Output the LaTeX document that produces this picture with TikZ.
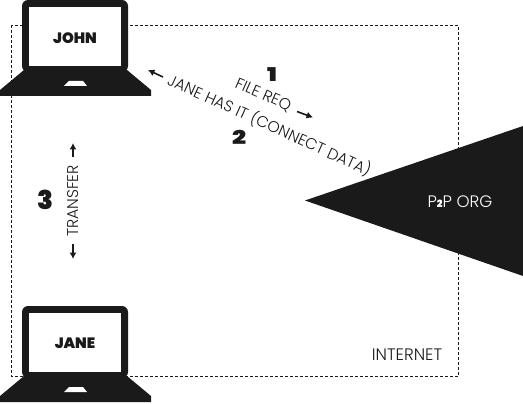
\documentclass[tikz,border=0pt]{standalone}
\usepackage{fontspec}
\setmainfont{Poppins}[UprightFont=* Light,BoldFont=* Black]
\usetikzlibrary{arrows.meta}
\definecolor{inkblack}{HTML}{1A1A1A}
\tikzset{
  thinlabel/.style={text=inkblack,inner sep=0pt,font=\fontsize{15.6}{17}\selectfont},
  widelabel/.style={text=inkblack,inner sep=0pt,font=\fontsize{16.6}{18}\selectfont},
  screenlabel/.style={text=inkblack,inner sep=0pt,font=\fontsize{15}{17}\selectfont\bfseries},
  steplabel/.style={text=inkblack,inner sep=0pt,font=\fontsize{26}{28}\selectfont\bfseries},
  squatlabel/.style={steplabel,font=\fontsize{19}{21}\selectfont\bfseries,xscale=1.3},
  flowarrow/.style={inkblack,line width=1.6pt,-{Latex[length=6.5pt,width=7pt]}},
  pics/laptop/.style={code={
    \fill [inkblack,rounded corners=6] (22,72) -- (22,0) -- (128,0) -- (128,72) -- cycle;
    \fill [white] (29,7) rectangle (121,66);
    \fill [inkblack] (24,70) -- (127,70) -- (151,90) -- (151,96) -- (0,96) -- (0,90) -- cycle;
    \fill [white] (64,86) -- (69,81) -- (83,81) -- (87,86) -- cycle;
  }}
}
\begin{document}
\begin{tikzpicture}[x=1pt,y=-1pt]
  \useasboundingbox (0,0) rectangle (523,404);
  \draw [inkblack,line width=0.5pt,dash pattern=on 2.6pt off 2.4pt] (11,25) rectangle (458.5,376);
  \pic at (0,0) {laptop};
  \pic at (0,306) {laptop};
  \fill [inkblack] (305,200.5) -- (523,126) -- (523,276) -- cycle;
  \node [screenlabel] (john) at (75,38) {JOHN};
  \node [screenlabel] (jane) at (75,343) {JANE};
  \node [widelabel,text=white] (org) at (460,201.5) {P{\fontsize{10}{11}\selectfont\bfseries 2}P ORG};
  \node [widelabel] (internet) at (407,355) {INTERNET};
  \node [thinlabel,rotate=-24] (req) at (263,95) {FILE REQ};
  \node [thinlabel,rotate=-24.5] (has) at (269.5,125) {JANE HAS IT (CONNECT DATA)};
  \node [thinlabel,rotate=90] (transfer) at (73,201) {TRANSFER};
  \node [squatlabel] (one) at (272,74.5) {1};
  \node [squatlabel] (two) at (239,137) {2};
  \node [steplabel] (three) at (45,200) {3};
  \coordinate (hasend) at (163,77);
  \coordinate (hastip) at (148,70);
  \coordinate (reqend) at (297,111.5);
  \coordinate (reqtip) at (313,117.5);
  \coordinate (upend) at (73,157);
  \coordinate (uptip) at (73,143);
  \coordinate (downend) at (73,244);
  \coordinate (downtip) at (73,259);
  \draw [flowarrow] (hasend) -- (hastip);
  \draw [flowarrow] (reqend) -- (reqtip);
  \draw [flowarrow] (upend) -- (uptip);
  \draw [flowarrow] (downend) -- (downtip);
\end{tikzpicture}
\end{document}
